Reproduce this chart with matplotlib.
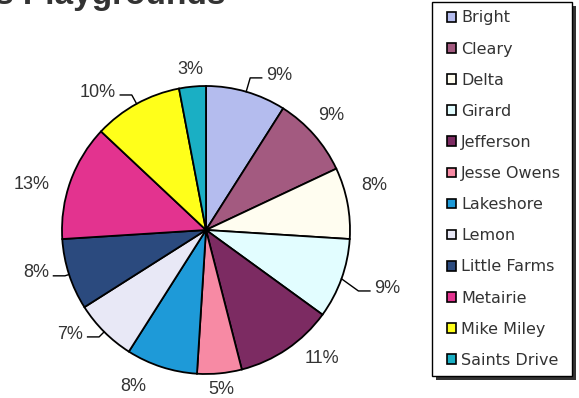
import numpy as np
import matplotlib
matplotlib.use("Agg")
import matplotlib.pyplot as plt
from matplotlib.patches import Patch, Rectangle

plt.rcParams["font.family"] = ["Liberation Sans", "DejaVu Sans"]

# playground share of the total, clockwise from 12 o'clock
schools = ["Bright", "Cleary", "Delta", "Girard", "Jefferson", "Jesse Owens",
           "Lakeshore", "Lemon", "Little Farms", "Metairie", "Mike Miley",
           "Saints Drive"]
shares = [9, 9, 8, 9, 11, 5, 8, 7, 8, 13, 10, 3]
colors = ["#b4bcee", "#a35a80", "#fffdf0", "#e2fdff", "#7c2b62", "#f78aa4",
          "#1e9ad8", "#e8e8f6", "#2b4a7e", "#e3338f", "#ffff1a", "#1aafc4"]

# wedges whose label is tied back with a bent leader line
leader = {"Bright", "Girard", "Lemon", "Little Farms", "Mike Miley"}
# label placement tweaks: (angle shift in degrees, radius)
nudge = {"Cleary": (-1, 1.18), "Delta": (-4, 1.21), "Jefferson": (-8, 1.2),
         "Jesse Owens": (0, 1.11), "Lakeshore": (7, 1.2),
         "Metairie": (-5, 1.25), "Saints Drive": (0, 1.12),
         "Girard": (2, 1.14), "Lemon": (0, 1.05), "Little Farms": (0, 1.03),
         "Bright": (0, 1.1), "Mike Miley": (0, 1.07)}

W, H = 579, 398
fig = plt.figure(figsize=(W / 100, H / 100), dpi=100)

cx, cy, R = 206, 230, 144
ax = fig.add_axes([(cx - R) / W, (H - cy - R) / H, 2 * R / W, 2 * R / H])

wedges, _ = ax.pie(shares, colors=colors, startangle=90, counterclock=False,
                   radius=1, wedgeprops=dict(edgecolor="black", linewidth=1.3))
# pie() widens the limits to 1.25, pull them back so radius 1 fills the axes
ax.set_xlim(-1, 1)
ax.set_ylim(-1, 1)
ax.axis("off")

total = float(sum(shares))
start = 0.0
for name, val in zip(schools, shares):
    mid_deg = (start + val / 2) / total * 360
    start += val
    mid = np.deg2rad(mid_deg)
    sx, sy = np.sin(mid), np.cos(mid)
    dang, r = nudge[name]
    txt = "%d%%" % round(val / total * 100)
    if name in leader:
        side = 1 if sx > 0 else -1
        a = np.deg2rad(mid_deg + dang)
        bx, by = r * np.sin(a), r * np.cos(a)
        ex = bx + side * 0.08
        ax.plot([sx, bx, ex], [sy, by, by], color="black", lw=1.0,
                clip_on=False)
        ax.text(ex + side * 0.03, by + 0.02, txt, fontsize=13,
                color="#333333", ha="left" if side > 0 else "right",
                va="center")
    else:
        a = np.deg2rad(mid_deg + dang)
        ax.text(r * np.sin(a), r * np.cos(a), txt, fontsize=13,
                color="#333333", ha="center", va="center")

# title, partly running off the top edge
fig.text(-5 / W, 1 - 4 / H, "s Playgrounds", fontsize=24, fontweight="bold",
         color="#333333", ha="left", va="baseline")

# legend box with a solid drop shadow on the right and bottom
bx0, bx1, by0, by1 = 432, 572, 2, 376
fig.patches.append(Rectangle(((bx0 + 4) / W, (H - by1 - 4) / H),
                             (bx1 - bx0) / W, (by1 - by0) / H,
                             transform=fig.transFigure, facecolor="#333333",
                             edgecolor="none", zorder=1))
fig.patches.append(Rectangle((bx0 / W, (H - by1) / H),
                             (bx1 - bx0) / W, (by1 - by0) / H,
                             transform=fig.transFigure, facecolor="white",
                             edgecolor="black", linewidth=1.0, zorder=2))

handles = [Patch(facecolor=c, edgecolor="black", linewidth=1.2) for c in colors]
leg = fig.legend(handles, schools, loc="upper left",
                 bbox_to_anchor=(441 / W, 1 - 4 / H), borderaxespad=0,
                 prop={"family": "DejaVu Sans", "size": 11.5},
                 labelcolor="#333333", frameon=False, handlelength=0.55,
                 handleheight=0.55, handletextpad=0.3, labelspacing=1.01,
                 borderpad=0.4)
leg.set_zorder(3)

fig.savefig("out.png", dpi=100, facecolor="white")
